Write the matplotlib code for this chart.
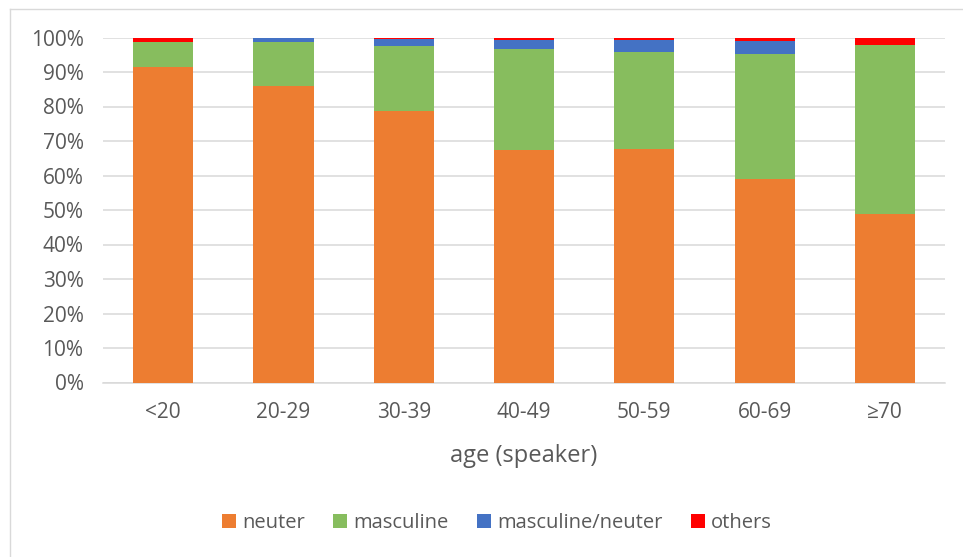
import numpy as np
import matplotlib
matplotlib.use('Agg')
from matplotlib import pyplot as plt
from matplotlib.ticker import FuncFormatter

plt.rcParams['font.family'] = ['Open Sans', 'DejaVu Sans']

ages = ['<20', '20-29', '30-39', '40-49', '50-59', '60-69', '≥70']
neuter = [91.4, 85.8, 78.8, 67.3, 67.7, 59.1, 48.8]
masculine = [7.2, 12.9, 18.65, 29.4, 28.1, 36.0, 49.1]
masc_neuter = [0.0, 1.3, 2.15, 2.7, 3.6, 3.9, 0.0]
others = [1.4, 0.0, 0.4, 0.6, 0.6, 1.0, 2.1]

series = [('neuter', neuter, '#ED7D31'),
          ('masculine', masculine, '#87BD5E'),
          ('masculine/neuter', masc_neuter, '#4472C4'),
          ('others', others, '#FF0000')]

W, H = 963, 557
fig = plt.figure(figsize=(W / 100, H / 100), dpi=100)
ax = fig.add_axes([103 / W, 1 - 382.5 / H, (945 - 103) / W, (382.5 - 37.5) / H])

x = np.arange(len(ages))
bottom = np.zeros(len(ages))
for name, vals, col in series:
    vals = np.array(vals)
    ax.bar(x, vals, 0.5, bottom=bottom, color=col, label=name, zorder=3)
    bottom += vals

ax.set_xlim(-0.5, len(ages) - 0.5)
ax.set_ylim(0, 100)
ax.set_yticks(np.arange(0, 101, 10))
ax.yaxis.set_major_formatter(FuncFormatter(lambda v, p: '%d%%' % v))
ax.set_xticks(x)
ax.set_xticklabels(ages)
ax.grid(axis='y', color='#d9d9d9', lw=1.1, zorder=0)
for s in ['top', 'right', 'left']:
    ax.spines[s].set_visible(False)
ax.spines['bottom'].set_color('#d9d9d9')
ax.spines['bottom'].set_linewidth(1.1)
ax.tick_params(length=0, labelsize=15, colors='#595959')
ax.tick_params(axis='x', pad=14)
ax.tick_params(axis='y', pad=14)
ax.set_xlabel('age (speaker)', fontsize=17, color='#595959', labelpad=15)

fig.legend(loc='center', bbox_to_anchor=(497 / W, 1 - 523 / H), ncol=4, frameon=False,
           fontsize=14.5, labelcolor='#595959', handlelength=0.7, handleheight=0.7,
           handletextpad=0.3, columnspacing=1.4)

# chart frame (left and top edges only)
fig.add_artist(plt.Line2D([9.5 / W, 9.5 / W], [0, 1 - 8.5 / H], color='#d9d9d9', lw=1.0))
fig.add_artist(plt.Line2D([9.5 / W, 1], [1 - 8.5 / H, 1 - 8.5 / H], color='#d9d9d9', lw=1.0))

fig.savefig('out.png', dpi=100)
